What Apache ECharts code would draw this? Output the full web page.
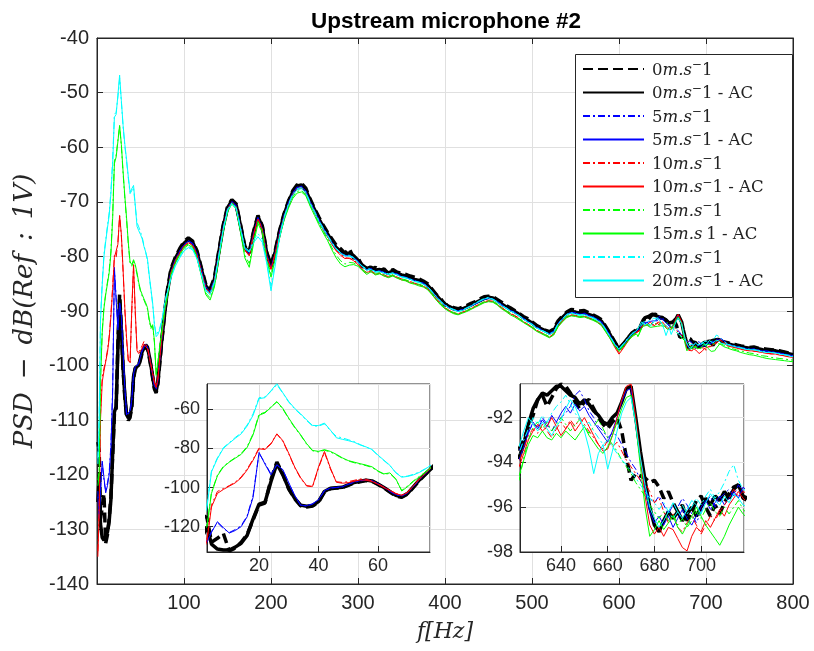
<!DOCTYPE html>
<html>
<head>
<meta charset="utf-8">
<script src="https://cdn.jsdelivr.net/npm/echarts@6/dist/echarts.min.js"></script>
<style>
  html, body { margin: 0; padding: 0; background: #fff; }
  #chart { width: 814px; height: 651px; }
</style>
</head>
<body>
<div id="chart"></div>
<script>
// frequency grid [Hz]
var freqLow = [1, 2.5, 4, 6, 8, 10, 12, 14, 16, 18, 20, 22, 24, 26, 28, 30, 32, 34, 36, 38,
  40, 42, 44, 46, 48, 50, 52, 54, 56, 58, 60, 62, 64, 66, 68, 70, 72, 74, 76, 78];
var freqMid = [80, 85, 90, 95, 100, 105, 110, 115, 120, 125,
  130, 135, 140, 145, 150, 155, 160, 165, 170, 175,
  180, 185, 190, 195, 200, 205, 210, 215, 220, 225,
  230, 235, 240, 245, 250, 255, 260, 265, 270, 275,
  280, 285, 290, 295, 300, 305, 310, 315, 320, 325,
  330, 335, 340, 345, 350, 355, 360, 365, 370, 375,
  380, 385, 390, 395, 400, 405, 410, 415, 420, 425,
  430, 435, 440, 445, 450, 455, 460, 465, 470, 475,
  480, 485, 490, 495, 500, 505, 510, 515, 520, 525,
  530, 535, 540, 545, 550, 555, 560, 565, 570, 575,
  580, 585, 590, 595, 600, 605, 610, 615, 620];
var freqIns = [622, 624, 626, 628, 630, 632, 634, 636, 638, 640,
  642, 644, 646, 648, 650, 652, 654, 656, 658, 660,
  662, 664, 666, 668, 670, 672, 674, 676, 678, 680,
  682, 684, 686, 688, 690, 692, 694, 696, 698, 700,
  702, 704, 706, 708, 710, 712, 714, 716, 718, 720];
var freqHigh = [725, 730, 735, 740, 745, 750, 755, 760, 765, 770, 775, 780, 785, 790, 795, 800];
var freqs = freqLow.concat(freqMid, freqIns, freqHigh);

// PSD values (dB), one array per run, same order as freqs
var psd0 = [
  -114,-115.5,-128,-126,-123.5,-132.5,-131,-128,-124,-116.5,-109,-108,-96,-87,-93,-100.8,-105.8,-109.4,-110,-109.5,
  -107.5,-102.4,-100.6,-100.3,-100,-98.9,-97.6,-97,-96.4,-96.8,-98.4,-100.2,-102.3,-104.3,-105,-103.3,-99.8,-96.3,-93.2,-90,
  -87.0,-82.3,-80.2,-78.6,-77.3,-76.6,-77.2,-79.0,-82.1,-85.1,
  -86.0,-83.9,-79.0,-74.3,-70.9,-69.6,-70.4,-74.2,-78.2,-79.2,
  -75.4,-72.5,-74.4,-79.2,-81.6,-78.8,-75.2,-72.2,-69.9,-68.0,
  -66.9,-66.6,-67.5,-69.5,-71.2,-72.8,-74.3,-75.6,-76.8,-78.0,
  -78.6,-79.4,-78.6,-80.3,-80.2,-81.9,-81.6,-82.4,-82.0,-82.6,
  -82.3,-83.2,-82.4,-82.9,-83.1,-83.3,-83.6,-83.8,-84.1,-84.5,
  -85.0,-86.0,-87.0,-87.7,-88.9,-89.0,-89.4,-89.6,-89.3,-89.0,
  -88.6,-88.3,-87.8,-87.4,-87.3,-87.4,-87.9,-88.4,-89.0,-89.4,
  -89.9,-90.4,-91.0,-91.4,-92.0,-92.6,-93.0,-93.5,-93.8,-93.3,
  -91.8,-90.9,-90.2,-89.7,-89.8,-90.0,-89.9,-90.3,-90.7,-91.1,
  -91.6,-92.9,-94.2,-95.6,-97.0,-96.2,-95.0,-94.0,-93.4,
  -93.4,-93.0,-92.4,-91.9,-91.2,-91.0,-91.5,-91.1,-90.7,-90.5,
  -90.6,-90.9,-91.3,-91.6,-91.3,-91.2,-91.6,-92.0,-92.3,-92.5,
  -92.2,-92.0,-92.6,-93.8,-94.8,-94.5,-94.6,-94.7,-94.9,-94.8,
  -95.1,-95.6,-95.3,-95.8,-96.2,-95.9,-96.6,-96.2,-95.7,-95.5,
  -96.0,-96.4,-95.9,-96.3,-95.8,-95.4,-95.1,-95.0,-95.6,-95.7,
  -95.8,-96.1,-96.2,-96.4,-96.5,-96.7,-96.6,-96.8,-96.9,-97.0,-97.1,-97.2,-97.3,-97.5,-97.7,-97.9
];
var psd0ac = [
  -125,-120,-129,-131.5,-132,-132,-130.5,-128.5,-124.5,-116,-108.5,-107.5,-97,-87.8,-93.5,-100.5,-105.5,-109,-109.6,-109.2,
  -107.2,-102,-100.4,-100.1,-99.9,-98.6,-97.4,-96.8,-96.2,-96.6,-98.2,-100,-102,-104,-104.7,-103,-99.5,-96,-93,-90.2,
  -87.4,-82.6,-80.4,-78.9,-77.6,-76.9,-77.4,-79.3,-82.4,-85.4,
  -86.3,-84.2,-79.3,-74.6,-71.1,-69.8,-70.6,-74.4,-78.4,-79.4,
  -75.6,-72.7,-74.6,-79.4,-81.9,-79.1,-75.4,-72.4,-70.1,-68.2,
  -67.1,-66.9,-67.8,-69.8,-71.4,-73.1,-74.6,-75.9,-77.2,-78.4,
  -79.1,-79.6,-79.4,-79.9,-80.7,-81.6,-82.2,-82.0,-82.5,-82.4,
  -82.8,-83.0,-82.7,-83.1,-83.4,-83.6,-83.9,-84.2,-84.4,-84.7,
  -85.3,-86.2,-87.1,-88.0,-88.7,-89.2,-89.6,-89.8,-89.6,-89.3,
  -88.9,-88.5,-88.1,-87.7,-87.5,-87.6,-88.1,-88.7,-89.2,-89.7,
  -90.1,-90.6,-91.2,-91.7,-92.2,-92.8,-93.2,-93.6,-94.0,-93.6,
  -92.1,-91.2,-90.4,-90.1,-90.2,-90.4,-90.3,-90.6,-90.9,-91.3,
  -91.9,-93.1,-94.4,-95.8,-96.9,-96.0,-95.0,-94.1,-93.6,
  -93.8,-93.2,-92.3,-91.6,-91.2,-90.9,-91.0,-90.8,-90.6,-90.6,
  -90.8,-91.0,-91.1,-91.4,-91.2,-91.4,-91.7,-91.9,-92.2,-92.3,
  -92.0,-91.8,-91.3,-90.7,-90.6,-92.0,-93.5,-94.8,-96.0,-96.8,
  -97.1,-96.6,-96.2,-96.5,-96.2,-96.6,-96.3,-96.0,-96.4,-96.0,
  -95.6,-95.9,-95.5,-95.7,-95.3,-95.6,-95.2,-95.0,-95.5,-95.6,
  -96.0,-96.2,-96.4,-96.5,-96.7,-96.8,-96.8,-96.9,-97.1,-97.2,-97.2,-97.3,-97.5,-97.6,-97.8,-98.0
];
var psd5 = [
  -123,-127,-122.5,-118,-121,-123,-121.5,-119.5,-114.5,-104,-82.5,-87.5,-93,-88.3,-91,-97.8,-104.2,-109.2,-109.5,-108.5,
  -106.4,-101.7,-100.3,-100,-99.7,-98.4,-97.3,-96.6,-96.2,-96.7,-98.2,-100,-102,-103.8,-104.4,-102.8,-99.4,-96,-92.9,-90,
  -87.5,-82.8,-80.6,-79.0,-77.8,-77.1,-77.6,-79.4,-82.5,-85.5,
  -86.4,-84.3,-79.4,-74.7,-71.2,-69.9,-70.7,-74.5,-78.5,-79.5,
  -75.8,-72.9,-74.8,-79.5,-82.1,-79.2,-75.5,-72.5,-70.2,-68.4,
  -67.3,-67.1,-68.0,-69.9,-71.6,-73.2,-74.8,-76.0,-77.4,-78.6,
  -79.4,-79.8,-79.9,-80.1,-80.9,-81.8,-82.5,-82.2,-82.7,-82.7,
  -82.9,-83.2,-83.1,-83.2,-83.6,-83.9,-84.1,-84.5,-84.6,-84.9,
  -85.5,-86.4,-87.3,-88.2,-88.9,-89.4,-89.7,-90.0,-89.7,-89.4,
  -89.0,-88.7,-88.2,-87.9,-87.6,-87.8,-88.2,-88.8,-89.3,-89.9,
  -90.2,-90.8,-91.3,-91.9,-92.3,-93.0,-93.3,-93.8,-94.1,-93.7,
  -92.2,-91.4,-90.5,-90.3,-90.3,-90.6,-90.4,-90.8,-91.0,-91.5,
  -92.0,-93.3,-94.5,-96.0,-97.1,-96.1,-95.1,-94.2,-93.7,
  -93.5,-93.0,-92.6,-92.3,-92.4,-92.0,-92.3,-92.6,-92.2,-92.0,
  -91.8,-91.5,-91.0,-90.8,-91.2,-91.7,-92.0,-92.4,-92.6,-92.9,
  -92.7,-92.8,-93.2,-93.6,-94.0,-94.3,-94.8,-95.2,-95.6,-95.8,
  -95.5,-95.9,-96.3,-95.9,-96.0,-95.6,-95.9,-96.3,-96.7,-96.2,
  -95.8,-95.5,-96.0,-95.6,-95.4,-95.2,-95.5,-95.0,-95.3,-95.4,
  -96.0,-96.4,-96.5,-96.6,-96.8,-97.1,-96.9,-97.1,-97.4,-97.3,-97.5,-97.5,-97.8,-97.8,-98.1,-98.2
];
var psd5ac = [
  -124,-128,-123,-117.5,-120.5,-123.3,-122,-120,-115,-105,-82,-88,-93.5,-88.5,-90.8,-97.5,-104,-109,-109.3,-108.3,
  -106.2,-101.5,-100.2,-99.9,-99.6,-98.3,-97.1,-96.5,-96.1,-96.5,-98,-99.8,-101.8,-103.6,-104.2,-102.6,-99.2,-95.8,-92.8,-89.9,
  -87.6,-82.9,-80.7,-79.1,-77.9,-77.2,-77.7,-79.5,-82.6,-85.6,
  -86.5,-84.3,-79.5,-74.8,-71.3,-70.0,-70.8,-74.7,-78.6,-79.6,
  -75.9,-72.9,-74.9,-79.6,-82.2,-79.3,-75.6,-72.6,-70.3,-68.4,
  -67.4,-67.2,-68.1,-70.0,-71.6,-73.3,-74.8,-76.1,-77.5,-78.7,
  -79.3,-79.9,-79.8,-80.2,-81.0,-81.9,-82.4,-82.3,-82.8,-82.6,
  -83.0,-83.3,-83.0,-83.3,-83.7,-83.8,-84.2,-84.4,-84.7,-84.9,
  -85.6,-86.4,-87.4,-88.2,-89.0,-89.4,-89.8,-90.0,-89.8,-89.5,
  -89.1,-88.7,-88.3,-87.9,-87.7,-87.8,-88.3,-88.9,-89.4,-89.9,
  -90.3,-90.8,-91.4,-91.9,-92.4,-93.0,-93.4,-93.8,-94.2,-93.8,
  -92.3,-91.4,-90.6,-90.3,-90.4,-90.6,-90.5,-90.8,-91.1,-91.5,
  -92.1,-93.3,-94.6,-96.0,-97.1,-96.2,-95.2,-94.3,-93.8,
  -93.9,-93.3,-92.7,-92.2,-92.5,-92.1,-92.4,-91.9,-92.2,-91.8,
  -91.5,-91.8,-91.4,-91.7,-91.5,-91.9,-92.2,-92.5,-92.8,-93.1,
  -92.6,-92.0,-91.3,-90.8,-90.7,-92.3,-93.9,-95.2,-96.2,-96.7,
  -96.4,-96.8,-96.4,-96.9,-96.5,-96.1,-96.5,-96.8,-96.4,-96.0,
  -95.7,-96.1,-95.8,-95.5,-95.9,-95.6,-95.3,-95.6,-95.1,-95.3,
  -96.1,-96.3,-96.6,-96.7,-96.9,-97.0,-97.0,-97.2,-97.3,-97.4,-97.5,-97.6,-97.7,-97.9,-98.0,-98.2
];
var psd10 = [
  -134,-126,-109,-102,-100.5,-99,-97.2,-94.6,-90.5,-85.5,-79.8,-80.2,-77.4,-72.6,-76.3,-82.8,-89.8,-95.3,-99.2,-99.6,
  -90,-82,-90.5,-97,-97.4,-97,-96.3,-95.6,-95.8,-96.6,-98.1,-99.8,-101.3,-103,-103.8,-102.3,-98.8,-95.4,-92.4,-89.6,
  -87.7,-83.0,-80.8,-79.3,-78.1,-77.4,-77.9,-79.7,-82.8,-85.8,
  -86.7,-84.5,-79.7,-74.9,-71.4,-70.1,-70.9,-74.8,-78.8,-79.8,
  -76.0,-73.1,-75.0,-79.8,-82.3,-79.4,-75.8,-72.8,-70.5,-68.6,
  -67.6,-67.4,-68.3,-70.2,-71.8,-73.5,-75.0,-76.3,-77.7,-78.9,
  -79.6,-80.2,-80.4,-80.6,-81.4,-82.3,-83.1,-82.6,-83.2,-83.0,
  -83.4,-83.7,-83.4,-83.8,-84.1,-84.4,-84.6,-84.9,-85.1,-85.4,
  -85.9,-86.8,-87.8,-88.6,-89.4,-89.9,-90.3,-90.5,-90.2,-89.9,
  -89.5,-89.1,-88.7,-88.3,-88.1,-88.2,-88.7,-89.3,-89.9,-90.4,
  -90.8,-91.3,-91.9,-92.4,-92.9,-93.5,-93.9,-94.3,-94.7,-94.2,
  -92.7,-91.8,-91.0,-90.7,-90.8,-91.0,-90.9,-91.2,-91.5,-91.9,
  -92.5,-93.7,-95.0,-96.4,-97.6,-96.6,-95.5,-94.5,-93.9,
  -94.0,-93.4,-92.8,-92.5,-92.7,-92.3,-92.6,-92.9,-92.5,-92.2,
  -92.5,-92.1,-92.4,-92.0,-92.3,-92.6,-92.9,-93.2,-93.4,-93.0,
  -93.3,-93.1,-93.5,-93.9,-94.2,-94.5,-94.8,-94.9,-95.3,-95.8,
  -95.6,-96.2,-96.7,-96.3,-96.9,-97.1,-96.7,-96.4,-96.8,-97.2,
  -96.8,-96.4,-96.6,-96.2,-95.9,-95.6,-95.2,-95.5,-95.3,-95.4,
  -96.3,-96.5,-96.7,-96.9,-97.1,-97.2,-97.4,-97.4,-97.6,-97.7,-97.9,-97.8,-98.0,-98.2,-98.3,-98.5
];
var psd10ac = [
  -135,-127,-110,-103,-101,-99.3,-97.6,-95,-91,-86,-80.2,-80.5,-77.8,-72.5,-76,-82.5,-89.5,-95,-99,-99.4,
  -89.5,-81.5,-90,-97.3,-97.8,-97.5,-96.8,-96.1,-96.3,-96.9,-98.3,-100,-101.5,-103.2,-104,-102.5,-99,-95.6,-92.6,-89.8,
  -87.8,-83.1,-80.9,-79.4,-78.2,-77.5,-78.0,-79.8,-82.9,-85.9,
  -86.8,-84.6,-79.8,-75.0,-71.5,-70.2,-71.0,-74.9,-78.9,-79.9,
  -76.1,-73.2,-75.1,-79.9,-82.4,-79.5,-75.9,-72.9,-70.6,-68.7,
  -67.7,-67.5,-68.4,-70.3,-71.9,-73.6,-75.1,-76.4,-77.8,-79.0,
  -79.8,-80.4,-80.3,-80.8,-81.5,-82.5,-82.9,-82.8,-83.3,-83.1,
  -83.6,-83.8,-83.5,-83.9,-84.3,-84.4,-84.8,-85.0,-85.2,-85.5,
  -86.0,-86.9,-87.9,-88.8,-89.5,-90.0,-90.4,-90.6,-90.3,-90.0,
  -89.6,-89.2,-88.8,-88.4,-88.2,-88.3,-88.8,-89.5,-90.0,-90.5,
  -90.9,-91.4,-92.0,-92.5,-93.0,-93.6,-94.0,-94.4,-94.8,-94.3,
  -92.8,-91.9,-91.1,-90.8,-90.9,-91.1,-91.0,-91.3,-91.6,-92.0,
  -92.6,-93.8,-95.1,-96.6,-97.9,-96.8,-95.6,-94.6,-94.0,
  -94.2,-93.6,-93.0,-92.6,-92.3,-92.6,-92.4,-92.0,-92.4,-92.8,
  -92.5,-92.2,-92.6,-92.3,-92.0,-92.4,-92.8,-93.2,-93.5,-93.4,
  -92.8,-92.0,-91.2,-90.6,-90.5,-92.0,-93.8,-95.5,-96.8,-97.2,
  -96.9,-97.3,-96.9,-97.0,-97.4,-97.8,-97.95,-97.3,-96.9,-97.1,
  -96.6,-96.9,-96.5,-96.1,-96.4,-95.9,-95.6,-95.3,-95.6,-95.8,
  -96.4,-96.6,-96.8,-97.0,-97.2,-97.3,-97.3,-97.5,-97.6,-97.8,-97.8,-97.9,-98.1,-98.2,-98.4,-98.5
];
var psd15 = [
  -121,-119,-102.5,-93.6,-89.2,-86.8,-84.7,-82.6,-79,-72.5,-62.5,-61.5,-58.7,-56.2,-59.8,-64.8,-69.3,-73.3,-77.8,-81.2,
  -81.8,-80.9,-81.8,-83.3,-85,-86.4,-87.3,-88,-88.8,-89.7,-91.7,-93.2,-92.8,-95.8,-101.5,-99.2,-96.5,-94.2,-92,-89.4,
  -88.0,-83.3,-81.1,-79.6,-78.3,-77.7,-78.2,-80.1,-83.3,-86.7,
  -87.6,-85.3,-80.3,-75.4,-71.7,-70.2,-71.1,-75.3,-79.8,-81.3,
  -77.1,-73.6,-75.3,-80.4,-83.3,-80.1,-76.2,-73.1,-70.9,-69.1,
  -68.1,-67.9,-68.7,-70.6,-72.3,-73.9,-75.4,-76.8,-78.4,-79.8,
  -80.8,-81.4,-81.1,-81.2,-81.6,-82.4,-83.0,-82.6,-83.1,-83.0,
  -83.4,-83.6,-83.4,-83.8,-84.1,-84.3,-84.6,-84.9,-85.1,-85.4,
  -85.9,-86.8,-87.8,-88.7,-89.4,-89.9,-90.3,-90.5,-90.2,-89.9,
  -89.5,-89.1,-88.7,-88.3,-88.1,-88.2,-88.7,-89.4,-89.9,-90.4,
  -90.9,-91.4,-91.9,-92.4,-92.9,-93.5,-93.9,-94.3,-94.7,-94.2,
  -92.7,-91.8,-91.0,-90.7,-90.8,-91.0,-90.9,-91.2,-91.5,-91.9,
  -92.5,-93.7,-94.9,-96.2,-97.2,-96.3,-95.4,-94.5,-94.0,
  -94.8,-93.8,-93.0,-92.4,-92.2,-92.5,-92.2,-92.6,-92.3,-92.0,
  -92.3,-92.6,-92.3,-92.1,-92.4,-92.7,-92.4,-92.1,-92.5,-92.9,
  -93.2,-93.5,-93.9,-94.2,-94.5,-94.9,-95.2,-95.5,-95.9,-96.2,
  -96.5,-96.2,-96.6,-96.3,-96.8,-96.5,-96.9,-96.6,-96.2,-96.5,
  -96.1,-95.8,-96.2,-96.4,-96.0,-96.3,-96.0,-95.7,-96.1,-96.3,
  -96.6,-96.9,-97.1,-97.3,-97.5,-97.7,-97.8,-98.0,-98.2,-98.3,-98.5,-98.6,-98.7,-98.8,-98.9,-99.0
];
var psd15ac = [
  -122,-120,-103,-94,-89.5,-87,-85,-83,-79.5,-73,-63,-61.8,-59,-56,-59.5,-64.5,-69,-73,-77.5,-81,
  -81.5,-80.6,-81.5,-83,-84.8,-86.2,-87,-87.8,-88.5,-89.4,-91.5,-93,-92.5,-95.5,-101.8,-99.5,-96.8,-94.5,-92.2,-89.6,
  -88.2,-83.5,-81.3,-79.8,-78.5,-77.9,-78.4,-80.3,-83.6,-87.0,
  -88.0,-85.6,-80.5,-75.6,-71.9,-70.4,-71.3,-75.6,-80.3,-82.0,
  -77.6,-74.0,-75.6,-80.7,-83.8,-80.4,-76.5,-73.4,-71.2,-69.4,
  -68.4,-68.2,-68.9,-70.8,-72.5,-74.2,-75.7,-77.1,-78.8,-80.3,
  -81.4,-81.9,-81.6,-81.5,-81.8,-82.6,-83.3,-82.8,-83.4,-83.2,
  -83.6,-83.9,-83.6,-84.0,-84.3,-84.5,-84.9,-85.1,-85.4,-85.6,
  -86.1,-87.0,-88.0,-88.9,-89.6,-90.1,-90.5,-90.7,-90.4,-90.1,
  -89.7,-89.3,-88.9,-88.5,-88.3,-88.4,-88.9,-89.6,-90.1,-90.7,
  -91.1,-91.6,-92.1,-92.6,-93.1,-93.7,-94.1,-94.5,-94.9,-94.4,
  -92.9,-92.0,-91.2,-90.9,-91.0,-91.2,-91.1,-91.4,-91.7,-92.1,
  -92.7,-93.9,-95.1,-96.4,-97.4,-96.5,-95.6,-94.7,-94.2,
  -94.6,-93.9,-93.2,-92.8,-92.9,-92.6,-92.9,-93.0,-92.7,-92.9,
  -92.6,-92.8,-93.0,-92.7,-92.4,-92.8,-93.1,-93.4,-93.6,-93.3,
  -92.8,-92.2,-91.6,-91.1,-91.0,-92.3,-94.2,-96.0,-97.3,-97.0,
  -96.6,-97.0,-96.7,-96.4,-96.9,-97.2,-96.8,-96.4,-96.0,-96.4,
  -96.8,-97.1,-97.4,-97.7,-97.3,-96.8,-96.4,-96.0,-96.3,-96.5,
  -96.8,-97.1,-97.3,-97.6,-97.8,-98.0,-98.1,-98.3,-98.5,-98.7,-98.8,-98.9,-99.0,-99.1,-99.2,-99.3
];
var psd20 = [
  -117,-109,-91.5,-84.8,-79.6,-77,-74.4,-72,-68,-62.3,-54,-53.6,-50.8,-47.4,-51.7,-56.3,-59.8,-62.6,-65.7,-68.5,
  -68.6,-67.4,-70.9,-73.8,-74.6,-75.5,-76.5,-78,-79.3,-80.7,-83.6,-86.2,-88.8,-92.3,-94.4,-94.1,-93.2,-92,-90.3,-88.2,
  -88.3,-83.8,-81.6,-80.1,-78.8,-78.2,-78.6,-80.3,-83.2,-86.1,
  -86.8,-84.6,-79.8,-75.0,-71.4,-70.2,-71.1,-74.8,-78.4,-79.0,
  -77.0,-75.8,-76.9,-80.9,-85.4,-81.0,-76.1,-72.8,-70.4,-68.6,
  -67.6,-67.4,-68.2,-70.1,-71.7,-73.4,-74.8,-76.1,-77.4,-78.5,
  -79.3,-79.8,-79.8,-80.2,-81.0,-81.8,-82.3,-82.3,-82.8,-82.7,
  -83.0,-83.2,-83.0,-83.3,-83.7,-83.9,-84.1,-84.5,-84.7,-85.0,
  -85.5,-86.4,-87.3,-88.2,-88.9,-89.4,-89.7,-90.0,-89.8,-89.4,
  -89.0,-88.5,-88.1,-87.7,-87.5,-87.8,-88.3,-88.9,-89.4,-89.9,
  -90.3,-90.8,-91.4,-91.9,-92.4,-93.0,-93.4,-93.8,-94.2,-93.8,
  -92.3,-91.4,-90.6,-90.3,-90.5,-90.7,-90.6,-90.9,-91.2,-91.6,
  -92.2,-93.4,-94.7,-96.0,-96.9,-96.0,-95.0,-94.1,-93.5,
  -93.6,-93.0,-92.5,-92.0,-92.3,-91.9,-92.2,-91.8,-91.5,-91.3,
  -91.0,-91.4,-91.8,-92.1,-92.4,-92.2,-92.6,-92.9,-93.2,-93.0,
  -93.3,-93.6,-93.9,-94.1,-94.4,-94.7,-95.0,-95.3,-95.6,-95.8,
  -96.1,-95.8,-96.2,-96.5,-96.2,-95.9,-96.3,-96.0,-95.6,-95.9,
  -95.5,-95.2,-95.6,-95.3,-94.9,-94.4,-94.1,-94.8,-95.2,-95.3,
  -96.1,-96.3,-96.5,-96.7,-96.9,-97.0,-97.1,-97.2,-97.4,-97.5,-97.6,-97.7,-97.8,-98.0,-98.1,-98.3
];
var psd20ac = [
  -118,-110,-92,-85.2,-80,-77.3,-74.8,-72.5,-68.5,-63,-54.5,-54,-50.5,-46.8,-51.5,-56,-59.5,-62.3,-65.4,-68.2,
  -68.3,-67,-70.6,-74.5,-75.3,-76,-76.8,-78.2,-79.2,-80.5,-83.4,-86,-88.6,-92.5,-94.7,-94.3,-93.5,-92.2,-90.5,-88.4,
  -88.5,-84.0,-81.8,-80.3,-79.0,-78.4,-78.8,-80.5,-83.4,-86.3,
  -87.0,-84.8,-80.0,-75.2,-71.6,-70.4,-71.3,-75.0,-78.6,-79.2,
  -77.5,-76.4,-77.4,-81.2,-86.3,-81.5,-76.4,-73.0,-70.6,-68.8,
  -67.8,-67.6,-68.4,-70.3,-71.9,-73.6,-75.0,-76.3,-77.6,-78.7,
  -79.4,-79.9,-80.0,-80.3,-81.1,-81.9,-82.5,-82.4,-82.9,-82.8,
  -83.1,-83.3,-83.1,-83.4,-83.8,-84.0,-84.2,-84.6,-84.8,-85.1,
  -85.6,-86.5,-87.4,-88.3,-89.0,-89.5,-89.8,-90.1,-89.9,-89.5,
  -89.1,-88.6,-88.2,-87.8,-87.6,-87.9,-88.4,-89.0,-89.5,-90.0,
  -90.4,-90.9,-91.5,-92.0,-92.5,-93.1,-93.5,-93.9,-94.3,-93.9,
  -92.4,-91.5,-90.7,-90.4,-90.6,-90.8,-90.7,-91.0,-91.3,-91.7,
  -92.3,-93.5,-94.8,-96.1,-97.0,-96.1,-95.1,-94.2,-93.6,
  -93.3,-92.6,-92.0,-92.3,-92.6,-92.2,-92.5,-92.8,-92.4,-92.1,
  -91.6,-91.2,-91.5,-92.0,-92.6,-93.4,-94.5,-93.6,-93.2,-94.3,
  -93.5,-92.6,-91.8,-91.3,-91.1,-92.3,-93.8,-95.0,-96.0,-96.5,
  -96.9,-96.6,-96.2,-95.8,-96.2,-96.5,-96.1,-95.7,-95.9,-96.3,
  -95.8,-95.4,-95.7,-95.9,-95.5,-95.8,-95.4,-95.6,-95.9,-96.0,
  -96.2,-96.4,-96.6,-96.8,-97.0,-97.1,-97.1,-97.3,-97.5,-97.6,-97.6,-97.7,-97.9,-98.0,-98.2,-98.4
];

var runNames = ['0m.s-1', '0m.s-1 - AC', '5m.s-1', '5m.s-1 - AC', '10m.s-1', '10m.s-1 - AC',
  '15m.s-1', '15m.s-1 - AC', '20m.s-1', '20m.s-1 - AC'];
var runValues = [psd0, psd0ac, psd5, psd5ac, psd10, psd10ac, psd15, psd15ac, psd20, psd20ac];

// styles per run
var dashDot = [7, 3, 2, 3];
var runStyle = [
  { color: '#000000', width: 3.5, type: [10, 5] },
  { color: '#000000', width: 3.5, type: 'solid' },
  { color: '#0000ff', width: 1, type: dashDot },
  { color: '#0000ff', width: 1, type: 'solid' },
  { color: '#ff0000', width: 1, type: dashDot },
  { color: '#ff0000', width: 1, type: 'solid' },
  { color: '#00ff00', width: 1, type: dashDot },
  { color: '#00ff00', width: 1, type: 'solid' },
  { color: '#00ffff', width: 1, type: dashDot },
  { color: '#00ffff', width: 1, type: 'solid' }
];

// legend text, LaTeX look: italic unit, raised minus
var legendLabel = {
  '0m.s-1': '{n|0}{i|m.s}{s|−}{n|1}',
  '0m.s-1 - AC': '{n|0}{i|m.s}{s|−}{n|1 - AC}',
  '5m.s-1': '{n|5}{i|m.s}{s|−}{n|1}',
  '5m.s-1 - AC': '{n|5}{i|m.s}{s|−}{n|1 - AC}',
  '10m.s-1': '{n|10}{i|m.s}{s|−}{n|1}',
  '10m.s-1 - AC': '{n|10}{i|m.s}{s|−}{n|1 - AC}',
  '15m.s-1': '{n|15}{i|m.s}{s|−}{n|1}',
  '15m.s-1 - AC': '{n|15}{i|m.s}{s| }{n|1 - AC}',
  '20m.s-1': '{n|20}{i|m.s}{s|−}{n|1}',
  '20m.s-1 - AC': '{n|20}{i|m.s}{s|−}{n|1 - AC}'
};

var SANS = 'Liberation Sans';
var SERIF = 'DejaVu Serif';
var INK = '#262626';
var GRIDLINE = '#e0e0e0';

function pairs(vals) {
  if (vals.length !== freqs.length) console.error('length mismatch', vals.length, freqs.length);
  return freqs.map(function (f, i) { return [f, vals[i]]; });
}

var series = [];
[0, 1, 2].forEach(function (g) {
  runNames.forEach(function (name, k) {
    var st = runStyle[k];
    series.push({
      type: 'line',
      name: name,
      xAxisIndex: g,
      yAxisIndex: g,
      data: pairs(runValues[k]),
      symbol: 'none',
      showSymbol: false,
      clip: true,
      silent: true,
      z: g === 0 ? 2 : 12,
      itemStyle: { color: st.color },
      lineStyle: { color: st.color, width: st.width, type: st.type }
    });
  });
});

function axisBase(extra) {
  var a = {
    type: 'value',
    axisLine: { show: true, onZero: false, lineStyle: { color: INK, width: 1 } },
    axisTick: { show: true, inside: true, length: 6, lineStyle: { color: INK } },
    axisLabel: { color: INK, fontFamily: SANS, fontSize: 20 },
    splitLine: { show: true, lineStyle: { color: GRIDLINE, width: 1 } }
  };
  for (var k in extra) a[k] = extra[k];
  return a;
}

var option = {
  animation: false,
  backgroundColor: '#ffffff',
  title: {
    text: 'Upstream microphone #2',
    left: 441, top: 5, textAlign: 'center',
    textStyle: { fontFamily: SANS, fontWeight: 'bold', fontSize: 22.5, color: '#000' }
  },
  grid: [
    { left: 97, top: 38, width: 696, height: 546, show: true, backgroundColor: '#fff',
      borderColor: INK, borderWidth: 1, z: 0 },
    { left: 207, top: 384, width: 223, height: 168, show: true, backgroundColor: '#fff',
      borderColor: INK, borderWidth: 1, z: 10 },
    { left: 520, top: 384, width: 224, height: 168, show: true, backgroundColor: '#fff',
      borderColor: INK, borderWidth: 1, z: 10 }
  ],
  xAxis: [
    axisBase({ gridIndex: 0, min: 0, max: 800, interval: 100,
      axisLabel: { color: INK, fontFamily: SANS, fontSize: 20, margin: 9, showMinLabel: false },
      name: 'f[Hz]', nameLocation: 'middle', nameGap: 37,
      nameTextStyle: { fontFamily: SERIF, fontStyle: 'italic', fontSize: 22, color: INK } }),
    axisBase({ gridIndex: 1, min: 2.5, max: 77.5, splitNumber: 4, z: 11,
      axisLabel: { color: INK, fontFamily: SANS, fontSize: 18, margin: 5, showMinLabel: false, showMaxLabel: false } }),
    axisBase({ gridIndex: 2, min: 622.4, max: 718.4, splitNumber: 5, z: 11,
      axisLabel: { color: INK, fontFamily: SANS, fontSize: 18, margin: 5, showMinLabel: false, showMaxLabel: false } }),
    axisBase({ gridIndex: 0, position: 'top', min: 0, max: 800, interval: 100,
      axisLabel: { show: false }, splitLine: { show: false } })
  ],
  yAxis: [
    axisBase({ gridIndex: 0, min: -140, max: -40, interval: 10,
      axisLabel: { color: INK, fontFamily: SANS, fontSize: 20, margin: 8 },
      name: 'PSD\u2002−\u2002dB(Ref\u2002:\u20021V)', nameLocation: 'middle', nameGap: 55,
      nameTextStyle: { fontFamily: SERIF, fontStyle: 'italic', fontSize: 26, color: INK } }),
    axisBase({ gridIndex: 1, min: -133, max: -47, splitNumber: 4, z: 11,
      axisLabel: { color: INK, fontFamily: SANS, fontSize: 18, margin: 7, showMinLabel: false, showMaxLabel: false } }),
    axisBase({ gridIndex: 2, min: -98, max: -90.5, splitNumber: 4, z: 11,
      axisLabel: { color: INK, fontFamily: SANS, fontSize: 18, margin: 7, showMinLabel: true, showMaxLabel: false } }),
    axisBase({ gridIndex: 0, position: 'right', min: -140, max: -40, interval: 10,
      axisLabel: { show: false }, splitLine: { show: false } })
  ],
  graphic: [{
    type: 'rect', z: 5, silent: true,
    shape: { x: 575.5, y: 54.5, width: 217, height: 243 },
    style: { fill: '#fff', stroke: INK, lineWidth: 1 }
  }],
  legend: {
    orient: 'vertical',
    left: 582, top: 59,
    itemWidth: 61, itemHeight: 14, itemGap: 3.5,
    padding: 0, z: 6,
    selectedMode: false,
    data: runNames,
    itemStyle: { opacity: 0 },
    formatter: function (name) { return legendLabel[name]; },
    textStyle: {
      padding: [0, 0, 0, 3],
      rich: {
        n: { fontFamily: SERIF, fontSize: 16.5, color: '#222', lineHeight: 20, verticalAlign: 'bottom' },
        i: { fontFamily: SERIF, fontSize: 16.5, fontStyle: 'italic', color: '#222', lineHeight: 20, verticalAlign: 'bottom' },
        s: { fontFamily: SERIF, fontSize: 12, color: '#222', lineHeight: 9, verticalAlign: 'top' }
      }
    }
  },
  series: series
};

var chart = echarts.init(document.getElementById('chart'), null, { renderer: 'canvas' });
chart.setOption(option);
</script>
</body>
</html>
